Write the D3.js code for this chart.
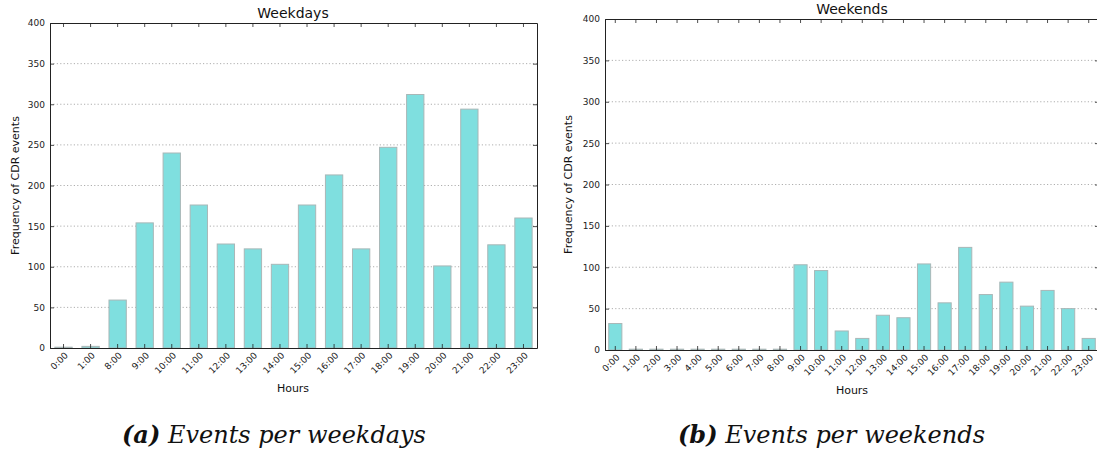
<!DOCTYPE html>
<html>
<head>
<meta charset="utf-8">
<script src="https://cdn.jsdelivr.net/npm/d3@7/dist/d3.min.js"></script>
<style>
  html, body { margin: 0; padding: 0; background: #fff; }
  svg { display: block; }
  .tick-label { font-family: "DejaVu Sans", sans-serif; font-size: 9px; fill: #222; }
  .axis-title { font-family: "DejaVu Sans", sans-serif; font-size: 11px; fill: #111; }
  .panel-title { font-family: "DejaVu Sans", sans-serif; font-size: 14px; fill: #111; }
  .caption { font-family: "DejaVu Serif", serif; font-size: 24px; font-style: italic; fill: #111; }
</style>
</head>
<body>
<svg id="chart" width="1097" height="454"></svg>
<script>
// Hourly CDR event counts
const weekdayHours = ["0:00", "1:00", "8:00", "9:00", "10:00", "11:00", "12:00", "13:00", "14:00",
  "15:00", "16:00", "17:00", "18:00", "19:00", "20:00", "21:00", "22:00", "23:00"];
const weekdayCounts = [1, 2, 59, 154, 240, 176, 128, 122, 103,
  176, 213, 122, 247, 312, 101, 294, 127, 160];

const weekendHours = ["0:00", "1:00", "2:00", "3:00", "4:00", "5:00", "6:00", "7:00", "8:00",
  "9:00", "10:00", "11:00", "12:00", "13:00", "14:00", "15:00", "16:00", "17:00",
  "18:00", "19:00", "20:00", "21:00", "22:00", "23:00"];
const weekendCounts = [32, 1, 1, 1, 1, 1, 1, 1, 1,
  103, 96, 23, 14, 42, 39, 104, 57, 124,
  67, 82, 53, 72, 50, 14];

const yTicks = [0, 50, 100, 150, 200, 250, 300, 350, 400];
const yMax = 400;

const svg = d3.select("#chart");

function drawPanel(opts) {
  const { hours, counts, left, right, top, bottom, title, titleX, titleY, yLabelX } = opts;
  const g = svg.append("g");

  const x = d3.scaleBand()
    .domain(hours)
    .range([left, right])
    .paddingInner(0.36)
    .paddingOuter(0.18);
  const y = d3.scaleLinear().domain([0, yMax]).range([bottom, top]);

  // dotted horizontal grid
  g.append("g").selectAll("line")
    .data(yTicks.filter(t => t > 0 && t < yMax))
    .join("line")
    .attr("x1", left).attr("x2", right)
    .attr("y1", d => y(d)).attr("y2", d => y(d))
    .attr("stroke", "#9a9a9a")
    .attr("stroke-width", 0.8)
    .attr("stroke-dasharray", "1.2,2.2");

  // bars
  g.append("g").selectAll("rect")
    .data(hours.map((h, i) => ({ h, v: counts[i] })))
    .join("rect")
    .attr("x", d => x(d.h))
    .attr("width", x.bandwidth())
    .attr("y", d => y(d.v))
    .attr("height", d => y(0) - y(d.v))
    .attr("fill", "#7fdfdf")
    .attr("stroke", "#a9b7b7")
    .attr("stroke-width", 1);

  // axes: ticks point inward on all four sides
  const xb = g.append("g").attr("transform", `translate(0,${bottom})`)
    .call(d3.axisBottom(x).tickSize(-4).tickSizeOuter(0).tickPadding(6));
  const xt = g.append("g").attr("transform", `translate(0,${top})`)
    .call(d3.axisTop(x).tickSize(-4).tickSizeOuter(0).tickFormat(""));
  const yl = g.append("g").attr("transform", `translate(${left},0)`)
    .call(d3.axisLeft(y).tickValues(yTicks).tickSize(-4).tickSizeOuter(0).tickPadding(5));
  const yr = g.append("g").attr("transform", `translate(${right},0)`)
    .call(d3.axisRight(y).tickValues(yTicks).tickSize(-4).tickSizeOuter(0).tickFormat(""));

  [xb, xt, yl, yr].forEach(a => {
    a.attr("font-size", null).attr("font-family", null);
    a.select(".domain").attr("stroke", "#222").attr("stroke-width", 1);
    a.selectAll(".tick line").attr("stroke", "#222").attr("stroke-width", 0.8);
  });

  yl.selectAll(".tick text").attr("class", "tick-label");

  xb.selectAll(".tick text")
    .attr("class", "tick-label")
    .attr("text-anchor", "end")
    .attr("dy", null)
    .attr("y", null)
    .attr("transform", "translate(5,8) rotate(-45)");

  // titles
  svg.append("text").attr("class", "panel-title")
    .attr("x", titleX)
    .attr("y", titleY)
    .attr("text-anchor", "middle")
    .text(title);

  svg.append("text").attr("class", "axis-title")
    .attr("x", titleX)
    .attr("y", bottom + 44)
    .attr("text-anchor", "middle")
    .text("Hours");

  svg.append("text").attr("class", "axis-title")
    .attr("transform", `translate(${yLabelX},${(top + bottom) / 2}) rotate(-90)`)
    .attr("text-anchor", "middle")
    .text("Frequency of CDR events");
}

drawPanel({
  hours: weekdayHours, counts: weekdayCounts,
  left: 50, right: 537, top: 23, bottom: 348,
  title: "Weekdays", titleX: 293, titleY: 18, yLabelX: 19
});

drawPanel({
  hours: weekendHours, counts: weekendCounts,
  left: 605, right: 1099, top: 19, bottom: 350,
  title: "Weekends", titleX: 852, titleY: 14, yLabelX: 572
});

// subfigure captions
function caption(x, tag, text) {
  const t = svg.append("text").attr("class", "caption").attr("x", x).attr("y", 443);
  t.append("tspan").attr("font-weight", "bold").text(tag);
  t.append("tspan").text(" " + text);
}
caption(122, "(a)", "Events per weekdays");
caption(678, "(b)", "Events per weekends");
</script>
</body>
</html>
